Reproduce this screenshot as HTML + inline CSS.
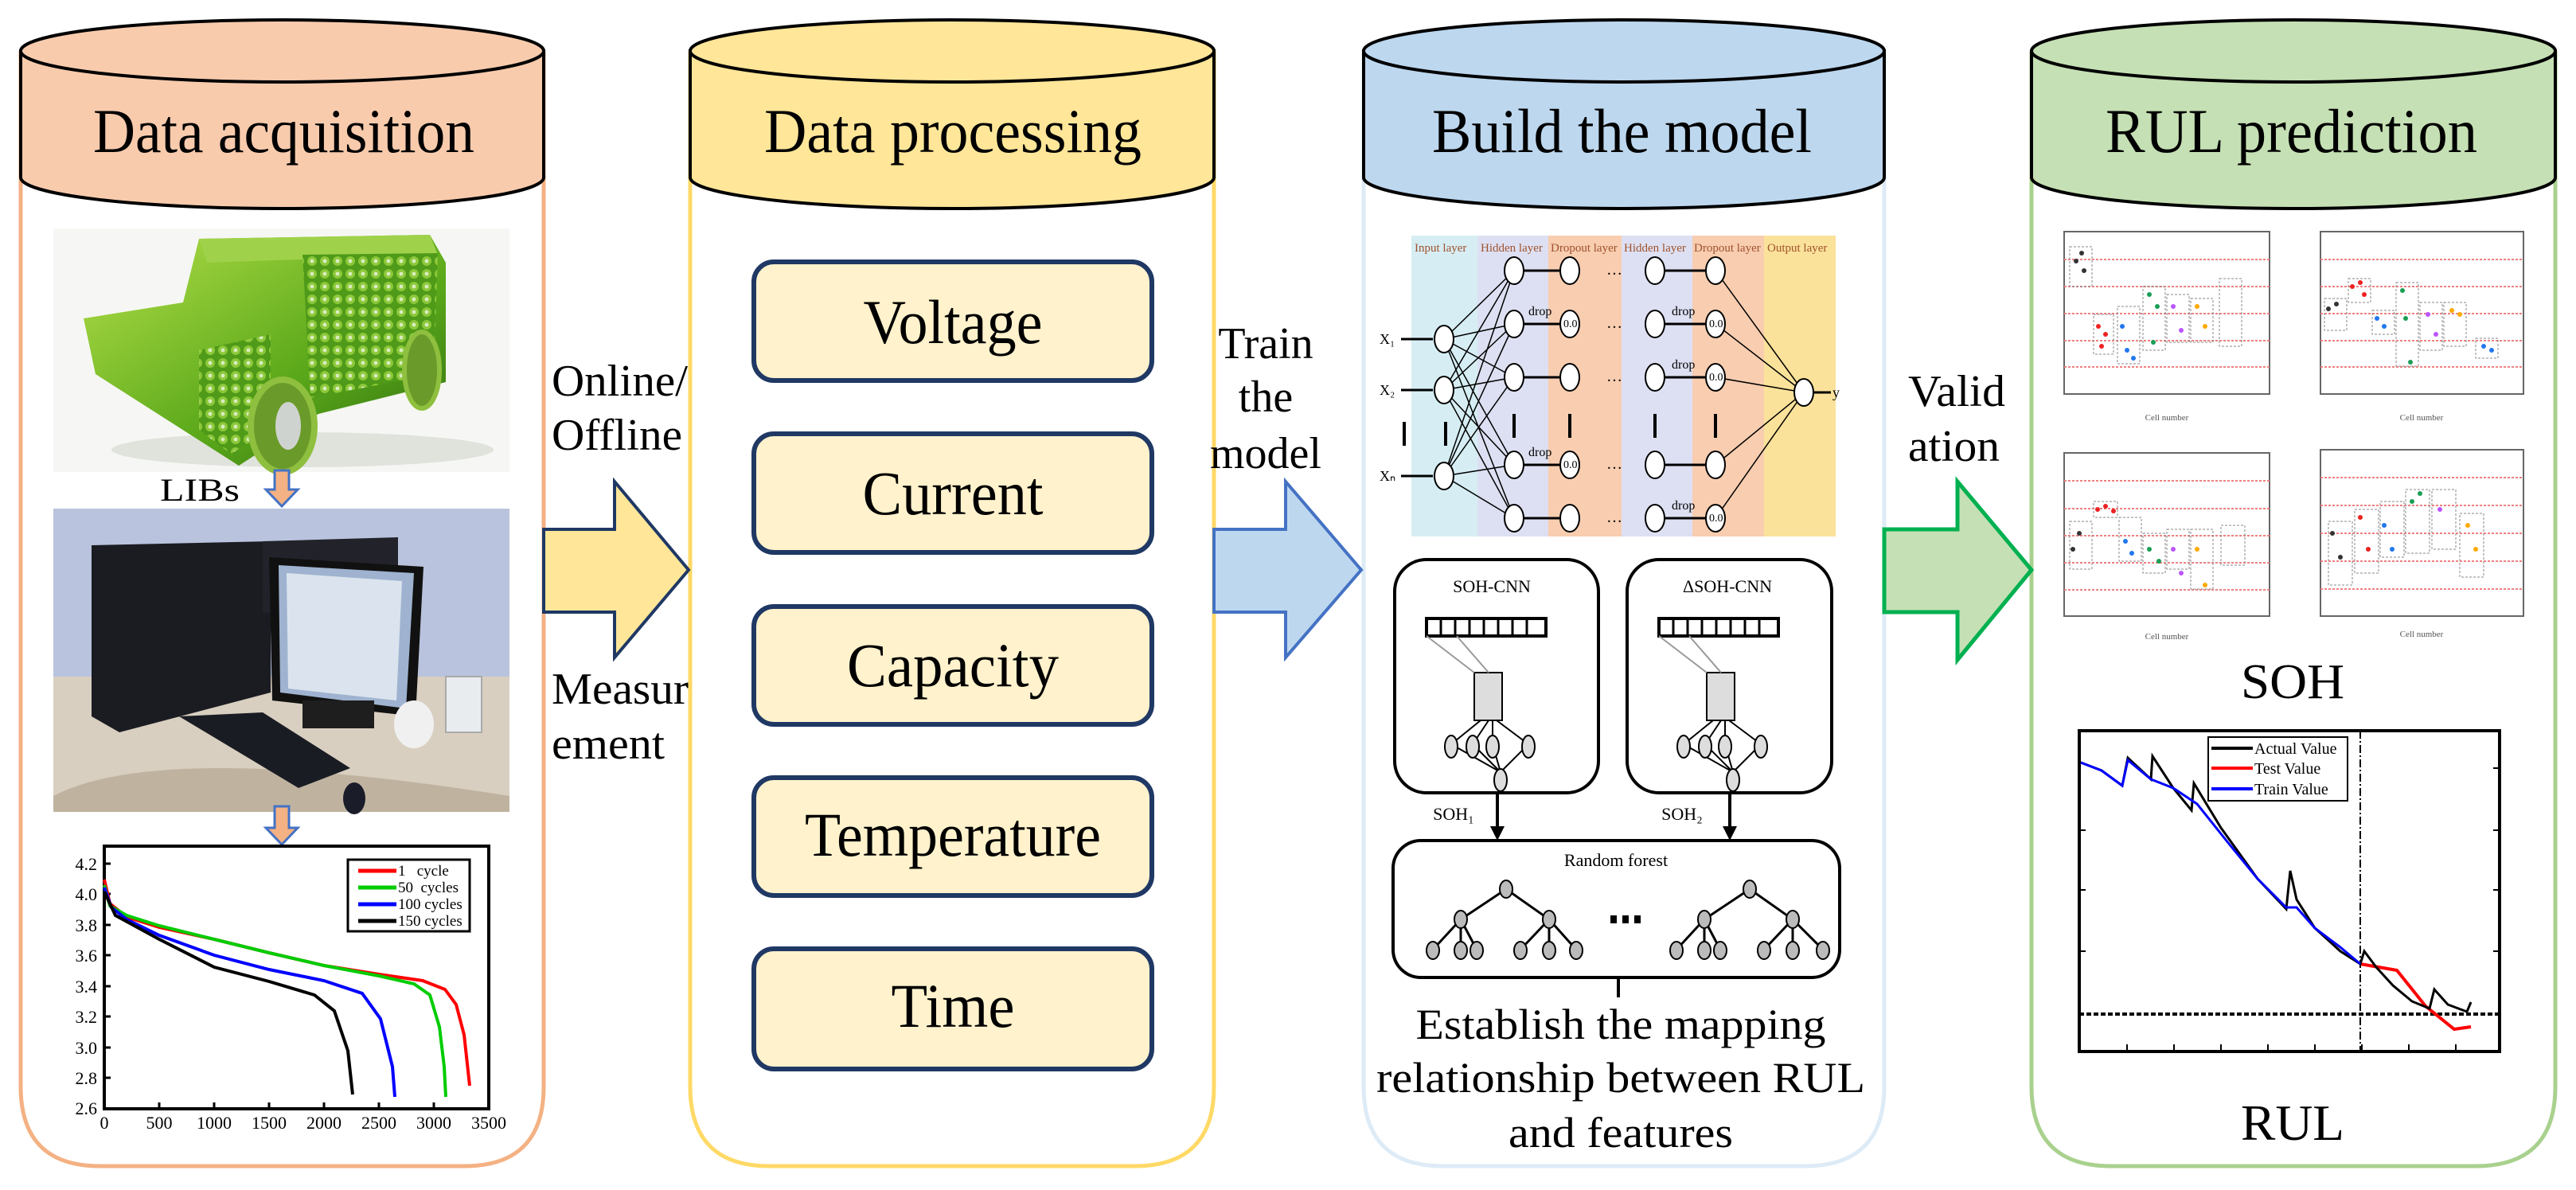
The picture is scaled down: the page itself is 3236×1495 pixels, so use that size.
<!DOCTYPE html>
<html><head><meta charset="utf-8"><style>html,body{margin:0;padding:0;background:#fff}svg{display:block}text{font-family:"Liberation Serif",serif}</style></head><body>
<svg width="3236" height="1495" viewBox="0 0 3236 1495" xmlns="http://www.w3.org/2000/svg">
<defs>
<linearGradient id="g1" x1="0" y1="0" x2="1" y2="1"><stop offset="0" stop-color="#b6e04a"/><stop offset="0.6" stop-color="#5aa81a"/><stop offset="1" stop-color="#2f6d10"/></linearGradient>
<pattern id="cells" width="16" height="16" patternUnits="userSpaceOnUse"><rect width="16" height="16" fill="#4f9a18"/><circle cx="8" cy="8" r="6" fill="#8cc83a"/><circle cx="8" cy="8" r="2.5" fill="#d8ecc0"/></pattern>
</defs>
<g fill="#fff" stroke-width="5">
<path d="M26,64 L26,1365 Q26,1465 126,1465 L583,1465 Q683,1465 683,1365 L683,64" stroke="#f4b183"/>
<path d="M867,64 L867,1365 Q867,1465 967,1465 L1425,1465 Q1525,1465 1525,1365 L1525,64" stroke="#ffd966"/>
<path d="M1713,64 L1713,1365 Q1713,1465 1813,1465 L2267,1465 Q2367,1465 2367,1365 L2367,64" stroke="#ddebf7"/>
<path d="M2552,64 L2552,1365 Q2552,1465 2652,1465 L3110,1465 Q3210,1465 3210,1365 L3210,64" stroke="#a9d18e"/>
</g>
<g stroke="#000" stroke-width="4">
<path d="M26,64 L26,223 A328.5,39 0 0 0 683,223 L683,64 Z" fill="#f8cbad"/>
<ellipse cx="354.5" cy="64" rx="328.5" ry="39" fill="#f8cbad"/>
<path d="M867,64 L867,223 A329,39 0 0 0 1525,223 L1525,64 Z" fill="#ffe699"/>
<ellipse cx="1196" cy="64" rx="329" ry="39" fill="#ffe699"/>
<path d="M1713,64 L1713,223 A327,39 0 0 0 2367,223 L2367,64 Z" fill="#bdd7ee"/>
<ellipse cx="2040" cy="64" rx="327" ry="39" fill="#bdd7ee"/>
<path d="M2552,64 L2552,223 A329,39 0 0 0 3210,223 L3210,64 Z" fill="#c5e0b4"/>
<ellipse cx="2881" cy="64" rx="329" ry="39" fill="#c5e0b4"/>
</g>
<g font-size="78" fill="#000">
<text x="117" y="191" textLength="479" lengthAdjust="spacingAndGlyphs">Data acquisition</text>
<text x="960" y="191" textLength="474" lengthAdjust="spacingAndGlyphs">Data processing</text>
<text x="1799" y="191" textLength="477" lengthAdjust="spacingAndGlyphs">Build the model</text>
<text x="2645" y="191" textLength="467" lengthAdjust="spacingAndGlyphs">RUL prediction</text>
</g>
<path d="M683,665 L772,665 L772,605 L865,716 L772,826 L772,769 L683,769 Z" fill="#ffe699" stroke="#1f3864" stroke-width="4"/>
<path d="M1525,665 L1615,665 L1615,605 L1710,716 L1615,826 L1615,769 L1525,769 Z" fill="#bdd7ee" stroke="#4472c4" stroke-width="4"/>
<path d="M2367,665 L2459,665 L2459,605 L2552,716 L2459,829 L2459,769 L2367,769 Z" fill="#c5e0b4" stroke="#00b050" stroke-width="5"/>
<g font-size="56" fill="#000">
<text x="693" y="497" textLength="171" lengthAdjust="spacingAndGlyphs">Online/</text>
<text x="693" y="565" textLength="164" lengthAdjust="spacingAndGlyphs">Offline</text>
<text x="693" y="884" textLength="172" lengthAdjust="spacingAndGlyphs">Measur</text>
<text x="693" y="953" textLength="142" lengthAdjust="spacingAndGlyphs">ement</text>
<text x="1590" y="450" text-anchor="middle">Train</text>
<text x="1590" y="517" text-anchor="middle">the</text>
<text x="1590" y="588" text-anchor="middle">model</text>
<text x="2397" y="510" textLength="122" lengthAdjust="spacingAndGlyphs">Valid</text>
<text x="2397" y="579" textLength="115" lengthAdjust="spacingAndGlyphs">ation</text>
</g>
<g fill="#fff2cc" stroke="#1f3864" stroke-width="6">
<rect x="947" y="329" width="500" height="149" rx="25"/>
<rect x="947" y="545" width="500" height="149" rx="25"/>
<rect x="947" y="762" width="500" height="148" rx="25"/>
<rect x="947" y="977" width="500" height="148" rx="25"/>
<rect x="947" y="1192" width="500" height="151" rx="25"/>
</g>
<g font-size="78" fill="#000" text-anchor="middle">
<text x="1197" y="431" textLength="225" lengthAdjust="spacingAndGlyphs">Voltage</text>
<text x="1197" y="646" textLength="227" lengthAdjust="spacingAndGlyphs">Current</text>
<text x="1197" y="862" textLength="266" lengthAdjust="spacingAndGlyphs">Capacity</text>
<text x="1197" y="1075" textLength="372" lengthAdjust="spacingAndGlyphs">Temperature</text>
<text x="1197" y="1290" textLength="155" lengthAdjust="spacingAndGlyphs">Time</text>
</g>
<!-- car -->
<rect x="67" y="287" width="573" height="306" fill="#f6f7f4"/>
<ellipse cx="380" cy="565" rx="240" ry="22" fill="#dfe3dc"/>
<path d="M105,400 L230,380 L250,300 L540,295 L560,330 L560,480 L400,520 L300,585 L120,470 Z" fill="url(#g1)"/>
<path d="M250,300 L540,295 L550,320 L260,330 Z" fill="#9fd24a"/>
<path d="M380,320 L550,318 L545,470 L390,500 Z" fill="url(#cells)"/>
<path d="M250,440 L340,420 L340,540 L290,570 L250,540 Z" fill="url(#cells)"/>
<ellipse cx="355" cy="535" rx="40" ry="58" fill="#6a9a2a" stroke="#8fbf3e" stroke-width="8"/>
<ellipse cx="362" cy="535" rx="16" ry="30" fill="#cfd3cf"/>
<ellipse cx="530" cy="465" rx="22" ry="48" fill="#6a9a2a" stroke="#8fbf3e" stroke-width="6"/>
<text x="201" y="629" font-size="40" textLength="100" lengthAdjust="spacingAndGlyphs">LIBs</text>
<path d="M345,591 L363,591 L363,615 L374,615 L354,636 L334,615 L345,615 Z" fill="#f4b183" stroke="#4472c4" stroke-width="3"/>
<!-- computer photo -->
<rect x="67" y="639" width="573" height="381" fill="#b9c3dd"/>
<rect x="67" y="850" width="573" height="170" fill="#d9cfc0"/>
<path d="M67,1000 Q200,930 640,1000 L640,1020 L67,1020 Z" fill="#bfb3a0"/>
<path d="M115,685 L340,680 L340,870 L150,920 L115,900 Z" fill="#1b1c22"/>
<path d="M330,680 L500,675 L500,760 L330,770 Z" fill="#22232a"/>
<path d="M338,700 L532,712 L522,900 L342,880 Z" fill="#111"/>
<path d="M350,710 L520,720 L510,890 L352,870 Z" fill="#9fb3d0"/>
<path d="M360,720 L505,730 L498,880 L362,865 Z" fill="#dbe4ee"/>
<path d="M225,900 L330,895 L440,965 L375,990 Z" fill="#1a1c24"/>
<ellipse cx="445" cy="1003" rx="14" ry="20" fill="#1a1c2a"/>
<rect x="380" y="880" width="90" height="35" fill="#1e1e1e"/>
<ellipse cx="520" cy="910" rx="25" ry="30" fill="#f0f0f0"/>
<rect x="560" y="850" width="45" height="70" fill="#e8ecef" stroke="#aaa" stroke-width="2"/>
<path d="M345,1013 L363,1013 L363,1040 L374,1040 L354,1061 L334,1040 L345,1040 Z" fill="#f4b183" stroke="#4472c4" stroke-width="3"/>
<!-- discharge plot -->
<rect x="131" y="1063" width="483" height="330" fill="#fff" stroke="#000" stroke-width="4"/>
<g stroke="#000" stroke-width="3">
<line x1="131" y1="1085" x2="139" y2="1085"/><line x1="131" y1="1123" x2="139" y2="1123"/><line x1="131" y1="1162" x2="139" y2="1162"/><line x1="131" y1="1200" x2="139" y2="1200"/><line x1="131" y1="1239" x2="139" y2="1239"/><line x1="131" y1="1277" x2="139" y2="1277"/><line x1="131" y1="1316" x2="139" y2="1316"/><line x1="131" y1="1354" x2="139" y2="1354"/>
<line x1="200" y1="1393" x2="200" y2="1385"/><line x1="269" y1="1393" x2="269" y2="1385"/><line x1="338" y1="1393" x2="338" y2="1385"/><line x1="407" y1="1393" x2="407" y2="1385"/><line x1="476" y1="1393" x2="476" y2="1385"/><line x1="545" y1="1393" x2="545" y2="1385"/>
</g>
<g font-size="22" text-anchor="end">
<text x="122" y="1093">4.2</text><text x="122" y="1131">4.0</text><text x="122" y="1170">3.8</text><text x="122" y="1208">3.6</text><text x="122" y="1247">3.4</text><text x="122" y="1285">3.2</text><text x="122" y="1324">3.0</text><text x="122" y="1362">2.8</text><text x="122" y="1400">2.6</text>
</g>
<g font-size="22" text-anchor="middle">
<text x="131" y="1418">0</text><text x="200" y="1418">500</text><text x="269" y="1418">1000</text><text x="338" y="1418">1500</text><text x="407" y="1418">2000</text><text x="476" y="1418">2500</text><text x="545" y="1418">3000</text><text x="614" y="1418">3500</text>
</g>
<g fill="none" stroke-width="4">
<path d="M131,1105 L138,1135 L159,1152 L200,1165 L269,1180 L338,1197 L407,1213 L476,1224 L531,1232 L559,1243 L573,1262 L583,1300 L590,1364" stroke="#f00"/>
<path d="M131,1112 L138,1138 L159,1150 L200,1163 L269,1180 L338,1197 L407,1213 L476,1226 L520,1236 L540,1250 L552,1290 L558,1340 L560,1378" stroke="#0c0"/>
<path d="M131,1115 L140,1140 L159,1155 L200,1175 L269,1200 L338,1218 L407,1232 L455,1248 L478,1280 L493,1340 L496,1378" stroke="#00f"/>
<path d="M131,1120 L145,1150 L200,1180 L269,1215 L338,1233 L395,1250 L420,1270 L437,1320 L443,1375" stroke="#000"/>
</g>
<rect x="437" y="1080" width="153" height="90" fill="#fff" stroke="#000" stroke-width="3"/>
<g stroke-width="5"><line x1="450" y1="1094" x2="498" y2="1094" stroke="#f00"/><line x1="450" y1="1115" x2="498" y2="1115" stroke="#0c0"/><line x1="450" y1="1136" x2="498" y2="1136" stroke="#00f"/><line x1="450" y1="1157" x2="498" y2="1157" stroke="#000"/></g>
<g font-size="19"><text x="500" y="1100">1 &#160;&#160;cycle</text><text x="500" y="1121">50 &#160;cycles</text><text x="500" y="1142">100 cycles</text><text x="500" y="1163">150 cycles</text></g>
<!-- NN diagram -->
<rect x="1773" y="296" width="83" height="378" fill="#d6eef3"/>
<rect x="1856" y="296" width="89" height="378" fill="#dde0f2"/>
<rect x="1945" y="296" width="92" height="378" fill="#f8cdb0"/>
<rect x="2037" y="296" width="89" height="378" fill="#dde0f2"/>
<rect x="2126" y="296" width="90" height="378" fill="#f8cdb0"/>
<rect x="2216" y="296" width="90" height="378" fill="#fbe29a"/>
<g font-size="15" fill="#a0522d" font-family="Liberation Sans,sans-serif"><text x="1777" y="316">Input layer</text><text x="1860" y="316">Hidden layer</text><text x="1948" y="316">Dropout layer</text><text x="2040" y="316">Hidden layer</text><text x="2128" y="316">Dropout layer</text><text x="2220" y="316">Output layer</text></g>
<g stroke="#000" stroke-width="1.5" fill="none">
<path d="M1814,426 L1902,340 M1814,426 L1902,407 M1814,426 L1902,474 M1814,426 L1902,584 M1814,426 L1902,651 M1814,490 L1902,340 M1814,490 L1902,407 M1814,490 L1902,474 M1814,490 L1902,584 M1814,490 L1902,651 M1814,598 L1902,340 M1814,598 L1902,407 M1814,598 L1902,474 M1814,598 L1902,584 M1814,598 L1902,651"/>
<path d="M2155,340 L2266,493 M2155,407 L2266,493 M2155,474 L2266,493 M2155,584 L2266,493 M2155,651 L2266,493"/>
<path d="M1902,340 L1972,340 M1902,407 L1972,407 M1902,474 L1972,474 M1902,584 L1972,584 M1902,651 L1972,651 M2079,340 L2155,340 M2079,407 L2155,407 M2079,474 L2155,474 M2079,584 L2155,584 M2079,651 L2155,651 M1760,426 L1800,426 M1760,490 L1800,490 M1760,598 L1800,598 M2278,493 L2300,493" stroke-width="3"/>
</g>
<g fill="#fff" stroke="#000" stroke-width="2">
<ellipse cx="1814" cy="426" rx="12" ry="17"/><ellipse cx="1814" cy="490" rx="12" ry="17"/><ellipse cx="1814" cy="598" rx="12" ry="17"/>
<ellipse cx="1902" cy="340" rx="12" ry="17"/><ellipse cx="1902" cy="407" rx="12" ry="17"/><ellipse cx="1902" cy="474" rx="12" ry="17"/><ellipse cx="1902" cy="584" rx="12" ry="17"/><ellipse cx="1902" cy="651" rx="12" ry="17"/>
<ellipse cx="1972" cy="340" rx="12" ry="17"/><ellipse cx="1972" cy="407" rx="12" ry="17"/><ellipse cx="1972" cy="474" rx="12" ry="17"/><ellipse cx="1972" cy="584" rx="12" ry="17"/><ellipse cx="1972" cy="651" rx="12" ry="17"/>
<ellipse cx="2079" cy="340" rx="12" ry="17"/><ellipse cx="2079" cy="407" rx="12" ry="17"/><ellipse cx="2079" cy="474" rx="12" ry="17"/><ellipse cx="2079" cy="584" rx="12" ry="17"/><ellipse cx="2079" cy="651" rx="12" ry="17"/>
<ellipse cx="2155" cy="340" rx="12" ry="17"/><ellipse cx="2155" cy="407" rx="12" ry="17"/><ellipse cx="2155" cy="474" rx="12" ry="17"/><ellipse cx="2155" cy="584" rx="12" ry="17"/><ellipse cx="2155" cy="651" rx="12" ry="17"/>
<ellipse cx="2266" cy="493" rx="12" ry="17"/>
</g>
<g font-size="14" font-family="Liberation Sans,sans-serif"><text x="1964" y="411">0.0</text><text x="1964" y="588">0.0</text><text x="2147" y="411">0.0</text><text x="2147" y="478">0.0</text><text x="2147" y="655">0.0</text>
<text x="1920" y="396" font-size="16">drop</text><text x="1920" y="573" font-size="16">drop</text><text x="2100" y="396" font-size="16">drop</text><text x="2100" y="463" font-size="16">drop</text><text x="2100" y="640" font-size="16">drop</text>
<text x="1733" y="432" font-size="18">X₁</text><text x="1733" y="496" font-size="18">X₂</text><text x="1733" y="604" font-size="18">Xₙ</text><text x="2302" y="499" font-size="18">y</text>
<text x="2018" y="345" font-size="20">…</text><text x="2018" y="412" font-size="20">…</text><text x="2018" y="479" font-size="20">…</text><text x="2018" y="589" font-size="20">…</text><text x="2018" y="656" font-size="20">…</text></g>
<g fill="#000"><rect x="1762" y="530" width="4" height="30"/><rect x="1814" y="530" width="4" height="30"/><rect x="1900" y="520" width="4" height="30"/><rect x="1970" y="520" width="4" height="30"/><rect x="2077" y="520" width="4" height="30"/><rect x="2153" y="520" width="4" height="30"/></g>
<g fill="#fff" stroke="#000" stroke-width="4">
<rect x="1752" y="703" width="256" height="293" rx="40"/>
<rect x="2044" y="703" width="257" height="293" rx="40"/>
<rect x="1750" y="1056" width="561" height="172" rx="35"/>
</g>
<g font-size="22" text-anchor="middle"><text x="1874" y="744">SOH-CNN</text><text x="2170" y="744">ΔSOH-CNN</text><text x="2030" y="1088" font-size="22">Random forest</text>
<text x="1826" y="1030" font-size="22">SOH₁</text><text x="2113" y="1030" font-size="22">SOH₂</text></g>
<g stroke="#000" stroke-width="2" fill="#ddd">
<rect x="1792" y="777" width="150" height="22" fill="#fff" stroke-width="4"/><rect x="2084" y="777" width="150" height="22" fill="#fff" stroke-width="4"/>
<path d="M1810,777 L1810,799 M1828,777 L1828,799 M1846,777 L1846,799 M1864,777 L1864,799 M1882,777 L1882,799 M1900,777 L1900,799 M1918,777 L1918,799 M2102,777 L2102,799 M2120,777 L2120,799 M2138,777 L2138,799 M2156,777 L2156,799 M2174,777 L2174,799 M2192,777 L2192,799 M2210,777 L2210,799" stroke-width="3"/>
<rect x="1852" y="845" width="35" height="60"/><rect x="2144" y="845" width="35" height="60"/>
<path d="M1792,799 L1852,845 M1830,799 L1870,845 M2084,799 L2144,845 M2122,799 L2162,845" fill="none" stroke="#999"/>
<path d="M1860,905 L1823,935 M1870,905 L1850,935 M1875,905 L1875,935 M1880,905 L1920,935 M1823,935 L1885,970 M1850,935 L1885,970 M1875,935 L1885,970 M1920,935 L1885,970 M2152,905 L2115,935 M2162,905 L2142,935 M2167,905 L2167,935 M2172,905 L2212,935 M2115,935 L2177,970 M2142,935 L2177,970 M2167,935 L2177,970 M2212,935 L2177,970" fill="none"/>
<ellipse cx="1823" cy="938" rx="8" ry="14"/><ellipse cx="1850" cy="938" rx="8" ry="14"/><ellipse cx="1875" cy="938" rx="8" ry="14"/><ellipse cx="1920" cy="938" rx="8" ry="14"/><ellipse cx="1885" cy="980" rx="8" ry="14"/>
<ellipse cx="2115" cy="938" rx="8" ry="14"/><ellipse cx="2142" cy="938" rx="8" ry="14"/><ellipse cx="2167" cy="938" rx="8" ry="14"/><ellipse cx="2212" cy="938" rx="8" ry="14"/><ellipse cx="2177" cy="980" rx="8" ry="14"/>
</g>
<g stroke="#000" stroke-width="4"><line x1="1881" y1="996" x2="1881" y2="1040"/><line x1="2173" y1="996" x2="2173" y2="1040"/><line x1="2033" y1="1228" x2="2033" y2="1253"/></g>
<path d="M1872,1038 L1890,1038 L1881,1056 Z M2164,1038 L2182,1038 L2173,1056 Z" fill="#000"/>
<g stroke="#000" stroke-width="3" fill="none">
<path d="M1892,1117 L1835,1155 L1800,1193 M1835,1155 L1835,1193 M1835,1155 L1855,1193 M1892,1117 L1946,1155 L1910,1193 M1946,1155 L1946,1193 M1946,1155 L1980,1193"/>
<path d="M2198,1117 L2141,1155 L2106,1193 M2141,1155 L2141,1193 M2141,1155 L2161,1193 M2198,1117 L2252,1155 L2216,1193 M2252,1155 L2252,1193 M2252,1155 L2290,1193"/>
</g>
<g fill="#bbb" stroke="#000" stroke-width="2">
<ellipse cx="1892" cy="1117" rx="8" ry="11"/><ellipse cx="1835" cy="1155" rx="8" ry="11"/><ellipse cx="1946" cy="1155" rx="8" ry="11"/>
<ellipse cx="1800" cy="1194" rx="8" ry="11"/><ellipse cx="1835" cy="1194" rx="8" ry="11"/><ellipse cx="1855" cy="1194" rx="8" ry="11"/><ellipse cx="1910" cy="1194" rx="8" ry="11"/><ellipse cx="1946" cy="1194" rx="8" ry="11"/><ellipse cx="1980" cy="1194" rx="8" ry="11"/>
<ellipse cx="2198" cy="1117" rx="8" ry="11"/><ellipse cx="2141" cy="1155" rx="8" ry="11"/><ellipse cx="2252" cy="1155" rx="8" ry="11"/>
<ellipse cx="2106" cy="1194" rx="8" ry="11"/><ellipse cx="2141" cy="1194" rx="8" ry="11"/><ellipse cx="2161" cy="1194" rx="8" ry="11"/><ellipse cx="2216" cy="1194" rx="8" ry="11"/><ellipse cx="2252" cy="1194" rx="8" ry="11"/><ellipse cx="2290" cy="1194" rx="8" ry="11"/>
</g>
<g fill="#000"><rect x="2023" y="1150" width="8" height="10"/><rect x="2038" y="1150" width="8" height="10"/><rect x="2053" y="1150" width="8" height="10"/></g>
<g font-size="54" text-anchor="middle">
<text x="2036" y="1305" textLength="515" lengthAdjust="spacingAndGlyphs">Establish the mapping</text>
<text x="2036" y="1372" textLength="614" lengthAdjust="spacingAndGlyphs">relationship between RUL</text>
<text x="2036" y="1441" textLength="282" lengthAdjust="spacingAndGlyphs">and features</text>
</g>
<!-- SOH scatter plots -->
<g fill="none" stroke="#666" stroke-width="2">
<rect x="2593" y="291" width="258" height="204"/><rect x="2915" y="291" width="255" height="204"/>
<rect x="2593" y="569" width="258" height="205"/><rect x="2915" y="565" width="255" height="209"/>
</g>
<g stroke="#f08080" stroke-width="2" stroke-dasharray="3 2">
<line x1="2593" y1="326" x2="2851" y2="326"/><line x1="2593" y1="360" x2="2851" y2="360"/><line x1="2593" y1="394" x2="2851" y2="394"/><line x1="2593" y1="428" x2="2851" y2="428"/><line x1="2593" y1="461" x2="2851" y2="461"/>
<line x1="2915" y1="326" x2="3170" y2="326"/><line x1="2915" y1="360" x2="3170" y2="360"/><line x1="2915" y1="394" x2="3170" y2="394"/><line x1="2915" y1="428" x2="3170" y2="428"/><line x1="2915" y1="461" x2="3170" y2="461"/>
<line x1="2593" y1="604" x2="2851" y2="604"/><line x1="2593" y1="639" x2="2851" y2="639"/><line x1="2593" y1="673" x2="2851" y2="673"/><line x1="2593" y1="707" x2="2851" y2="707"/><line x1="2593" y1="741" x2="2851" y2="741"/>
<line x1="2915" y1="600" x2="3170" y2="600"/><line x1="2915" y1="635" x2="3170" y2="635"/><line x1="2915" y1="670" x2="3170" y2="670"/><line x1="2915" y1="705" x2="3170" y2="705"/><line x1="2915" y1="740" x2="3170" y2="740"/>
</g>
<g stroke="#888" stroke-width="1" fill="none" stroke-dasharray="3 2">
<rect x="2600" y="310" width="28" height="50"/><rect x="2630" y="395" width="25" height="50"/><rect x="2660" y="385" width="28" height="72"/><rect x="2692" y="360" width="28" height="80"/><rect x="2722" y="370" width="28" height="60"/><rect x="2752" y="375" width="28" height="55"/><rect x="2788" y="350" width="28" height="85"/>
<rect x="2920" y="375" width="28" height="40"/><rect x="2950" y="350" width="28" height="30"/><rect x="2980" y="390" width="28" height="30"/><rect x="3010" y="355" width="28" height="105"/><rect x="3040" y="380" width="28" height="60"/><rect x="3070" y="380" width="28" height="55"/><rect x="3110" y="425" width="28" height="25"/>
<rect x="2600" y="655" width="28" height="60"/><rect x="2630" y="630" width="30" height="20"/><rect x="2662" y="650" width="28" height="55"/><rect x="2692" y="670" width="28" height="50"/><rect x="2722" y="665" width="28" height="50"/><rect x="2752" y="665" width="28" height="75"/><rect x="2790" y="660" width="30" height="50"/>
<rect x="2925" y="655" width="30" height="80"/><rect x="2958" y="640" width="30" height="80"/><rect x="2990" y="630" width="30" height="70"/><rect x="3022" y="615" width="30" height="80"/><rect x="3055" y="615" width="30" height="75"/><rect x="3090" y="645" width="30" height="80"/>
</g>
<g>
<g fill="#333"><circle cx="2608" cy="328" r="3"/><circle cx="2618" cy="340" r="3"/><circle cx="2615" cy="318" r="3"/><circle cx="2925" cy="388" r="3"/><circle cx="2935" cy="382" r="3"/><circle cx="2604" cy="690" r="3"/><circle cx="2612" cy="670" r="3"/><circle cx="2930" cy="670" r="3"/><circle cx="2940" cy="700" r="3"/></g>
<g fill="#e22"><circle cx="2636" cy="410" r="3"/><circle cx="2645" cy="420" r="3"/><circle cx="2640" cy="435" r="3"/><circle cx="2955" cy="360" r="3"/><circle cx="2965" cy="355" r="3"/><circle cx="2970" cy="370" r="3"/><circle cx="2635" cy="640" r="3"/><circle cx="2645" cy="636" r="3"/><circle cx="2655" cy="642" r="3"/><circle cx="2965" cy="650" r="3"/><circle cx="2975" cy="690" r="3"/></g>
<g fill="#27e"><circle cx="2666" cy="410" r="3"/><circle cx="2672" cy="440" r="3"/><circle cx="2680" cy="450" r="3"/><circle cx="2986" cy="400" r="3"/><circle cx="2995" cy="410" r="3"/><circle cx="2670" cy="680" r="3"/><circle cx="2678" cy="695" r="3"/><circle cx="2995" cy="660" r="3"/><circle cx="3005" cy="690" r="3"/><circle cx="3120" cy="435" r="3"/><circle cx="3130" cy="440" r="3"/></g>
<g fill="#1a9e55"><circle cx="2700" cy="370" r="3"/><circle cx="2710" cy="385" r="3"/><circle cx="2705" cy="430" r="3"/><circle cx="3018" cy="365" r="3"/><circle cx="3022" cy="400" r="3"/><circle cx="3028" cy="455" r="3"/><circle cx="2700" cy="690" r="3"/><circle cx="2712" cy="705" r="3"/><circle cx="3030" cy="630" r="3"/><circle cx="3040" cy="620" r="3"/></g>
<g fill="#b5f"><circle cx="2730" cy="385" r="3"/><circle cx="2740" cy="415" r="3"/><circle cx="3050" cy="395" r="3"/><circle cx="3060" cy="420" r="3"/><circle cx="2730" cy="690" r="3"/><circle cx="2740" cy="720" r="3"/><circle cx="3065" cy="640" r="3"/></g>
<g fill="#fa0"><circle cx="2760" cy="385" r="3"/><circle cx="2770" cy="410" r="3"/><circle cx="3080" cy="390" r="3"/><circle cx="3090" cy="395" r="3"/><circle cx="2760" cy="690" r="3"/><circle cx="2770" cy="735" r="3"/><circle cx="3100" cy="660" r="3"/><circle cx="3110" cy="690" r="3"/></g>
</g>
<g font-size="11" fill="#555" text-anchor="middle"><text x="2722" y="528">Cell number</text><text x="3042" y="528">Cell number</text><text x="2722" y="803">Cell number</text><text x="3042" y="800">Cell number</text></g>
<text x="2880" y="877" font-size="62" text-anchor="middle" textLength="130" lengthAdjust="spacingAndGlyphs">SOH</text>
<rect x="2612" y="918" width="528" height="403" fill="#fff" stroke="#000" stroke-width="4"/>
<g stroke="#000" stroke-width="2">
<line x1="2672" y1="1321" x2="2672" y2="1312"/><line x1="2731" y1="1321" x2="2731" y2="1312"/><line x1="2790" y1="1321" x2="2790" y2="1312"/><line x1="2849" y1="1321" x2="2849" y2="1312"/><line x1="2908" y1="1321" x2="2908" y2="1312"/><line x1="2967" y1="1321" x2="2967" y2="1312"/><line x1="3026" y1="1321" x2="3026" y2="1312"/><line x1="3085" y1="1321" x2="3085" y2="1312"/>
<line x1="2612" y1="1043" x2="2620" y2="1043"/><line x1="2612" y1="1118" x2="2620" y2="1118"/><line x1="2612" y1="1195" x2="2620" y2="1195"/><line x1="3132" y1="965" x2="3140" y2="965"/><line x1="3132" y1="1043" x2="3140" y2="1043"/><line x1="3132" y1="1118" x2="3140" y2="1118"/><line x1="3132" y1="1195" x2="3140" y2="1195"/>
</g>
<line x1="2965" y1="918" x2="2965" y2="1321" stroke="#000" stroke-width="2" stroke-dasharray="10 3 2 3"/>
<line x1="2612" y1="1274" x2="3140" y2="1274" stroke="#000" stroke-width="4" stroke-dasharray="6 3"/>
<path d="M2965,1211 L3011,1219 L3047,1264 L3083,1293 L3104,1290" fill="none" stroke="#f00" stroke-width="4"/>
<path d="M2614,958 L2640,968 L2666,987 L2673,952 L2702,979 L2704,950 L2730,990 L2753,1018 L2756,984 L2790,1040 L2836,1104 L2872,1142 L2877,1094 L2885,1130 L2908,1166 L2940,1195 L2965,1211 L2970,1195 L2985,1215 L3006,1238 L3030,1258 L3052,1267 L3058,1243 L3075,1262 L3099,1271 L3104,1259" fill="none" stroke="#000" stroke-width="3"/>
<path d="M2614,958 L2640,968 L2666,987 L2673,955 L2702,979 L2730,990 L2760,1010 L2800,1060 L2836,1104 L2872,1140 L2885,1140 L2908,1166 L2940,1190 L2965,1211" fill="none" stroke="#00f" stroke-width="3"/>
<rect x="2774" y="926" width="175" height="80" fill="#fff" stroke="#000" stroke-width="2"/>
<g stroke-width="4"><line x1="2778" y1="940" x2="2830" y2="940" stroke="#000"/><line x1="2778" y1="965" x2="2830" y2="965" stroke="#f00"/><line x1="2778" y1="991" x2="2830" y2="991" stroke="#00f"/></g>
<g font-size="20"><text x="2832" y="947">Actual Value</text><text x="2832" y="972">Test Value</text><text x="2832" y="998">Train Value</text></g>
<text x="2880" y="1432" font-size="64" text-anchor="middle" textLength="130" lengthAdjust="spacingAndGlyphs">RUL</text>
</svg>
</body></html>
